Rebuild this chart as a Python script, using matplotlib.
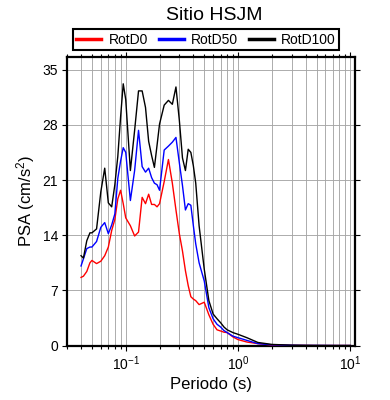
import matplotlib
matplotlib.use("Agg")
import matplotlib.pyplot as plt
from matplotlib.ticker import LogLocator, FixedLocator, NullFormatter, FixedFormatter

plt.rcParams['font.family'] = ['Liberation Sans', 'DejaVu Sans']
plt.rcParams['mathtext.fontset'] = 'custom'
plt.rcParams['mathtext.rm'] = 'Liberation Sans'
plt.rcParams['mathtext.it'] = 'Liberation Sans:italic'
plt.rcParams['mathtext.bf'] = 'Liberation Sans:bold'

title = "Sitio HSJM"
xlabel = "Periodo (s)"
ylabel = "PSA (cm/s$^2$)"
series_names = ["RotD0", "RotD50", "RotD100"]
series_colors = ["#ff0000", "#0000ff", "#000000"]

periods = [0.040, 0.042, 0.045, 0.048, 0.050, 0.055, 0.060, 0.065, 0.070, 0.075,
           0.080, 0.085, 0.090, 0.095, 0.100, 0.110, 0.120, 0.130, 0.140, 0.150,
           0.160, 0.170, 0.180, 0.190, 0.200, 0.220, 0.240, 0.260, 0.280, 0.300,
           0.320, 0.340, 0.360, 0.380, 0.400, 0.420, 0.450, 0.500, 0.550, 0.600,
           0.650, 0.700, 0.750, 0.800, 0.900, 1.0, 1.2, 1.5, 2.0, 3.0,
           4.0, 5.0, 7.5, 10.0]

rotd0 = [8.65, 8.8, 9.4, 10.5, 10.8, 10.4, 10.7, 11.4, 12.5, 14.6,
         16.0, 18.6, 19.7, 18.0, 16.2, 15.2, 13.9, 14.4, 18.8, 18.0,
         19.2, 17.9, 17.9, 17.6, 18.0, 20.8, 23.6, 20.6, 17.2, 14.2,
         12.0, 9.5, 7.6, 6.2, 5.9, 5.7, 5.2, 5.5, 3.9, 2.7,
         2.0, 1.85, 1.7, 1.65, 1.1, 0.76, 0.45, 0.25, 0.08, 0.03,
         0.02, 0.01, 0.01, 0.01]

rotd50 = [10.1, 11.0, 12.3, 12.5, 12.5, 13.2, 15.0, 15.6, 14.2, 15.3,
          16.7, 21.2, 23.4, 25.1, 24.5, 18.4, 22.2, 27.3, 22.7, 22.0,
          22.5, 21.3, 20.6, 20.4, 19.7, 24.8, 25.3, 25.8, 26.4, 23.2,
          20.3, 17.2, 18.0, 17.8, 15.2, 12.9, 10.5, 8.2, 4.8, 3.4,
          2.7, 2.35, 1.9, 1.65, 1.2, 1.0, 0.66, 0.25, 0.1, 0.04,
          0.02, 0.02, 0.01, 0.01]

rotd100 = [11.4, 11.1, 13.3, 14.3, 14.3, 14.8, 19.5, 22.5, 18.1, 17.6,
           20.4, 24.0, 29.0, 33.2, 31.2, 22.2, 27.3, 32.3, 32.3, 30.2,
           25.9, 24.1, 22.6, 25.4, 28.1, 30.5, 31.1, 30.6, 32.8, 28.6,
           23.8, 22.2, 24.9, 24.5, 22.8, 20.6, 15.2, 9.7, 5.7, 4.0,
           3.4, 2.9, 2.35, 2.0, 1.65, 1.43, 1.0, 0.4, 0.15, 0.05,
           0.03, 0.02, 0.01, 0.01]

yticks = [0, 7, 14, 21, 28, 35]
xticks = [0.1, 1, 10]
xticklabels = ["$10^{-1}$", "$10^{0}$", "$10^{1}$"]

fig = plt.figure(figsize=(3.9, 4.0), dpi=100)
ax = fig.add_axes([0.1718, 0.136, 0.7385, 0.7215])

for vals, name, col in zip([rotd0, rotd50, rotd100], series_names, series_colors):
    ax.plot(periods, vals, color=col, lw=1.0, label=name, zorder=3)

ax.set_xscale('log')
ax.set_xlim(0.03, 11)
ax.set_ylim(0, 36.6)

ax.xaxis.set_major_locator(FixedLocator(xticks))
ax.xaxis.set_major_formatter(FixedFormatter(xticklabels))
ax.xaxis.set_minor_locator(LogLocator(base=10, subs=range(2, 10), numticks=20))
ax.xaxis.set_minor_formatter(NullFormatter())
ax.set_yticks(yticks)
ax.set_yticklabels([str(v) for v in yticks])

ax.grid(True, which='major', axis='both', color='0.65', lw=0.65, zorder=0)
ax.grid(True, which='minor', axis='x', color='0.65', lw=0.65, zorder=0)
ax.set_axisbelow(True)

ax.tick_params(which='both', direction='out', top=True, right=True,
               labelsize=10, width=0.8, colors='black')
ax.tick_params(which='major', length=3.5, pad=3)
ax.tick_params(which='minor', length=2)
for s in ax.spines.values():
    s.set_linewidth(1.6)

ax.set_xlabel(xlabel, fontsize=12, labelpad=3)
ax.set_ylabel(ylabel, fontsize=12, labelpad=4)

fig.text(0.549, 0.962, title, fontsize=14, ha='center', va='center')

leg = ax.legend(loc='lower center', bbox_to_anchor=(0.483, 1.024), ncol=3,
                fontsize=10, frameon=True, fancybox=False, framealpha=1,
                edgecolor='black', borderpad=0.25, handlelength=1.8,
                handletextpad=0.5, columnspacing=0.8, borderaxespad=0)
leg.get_frame().set_linewidth(1.5)
for line in leg.get_lines():
    line.set_linewidth(2.5)

fig.savefig("out.png", dpi=100)
